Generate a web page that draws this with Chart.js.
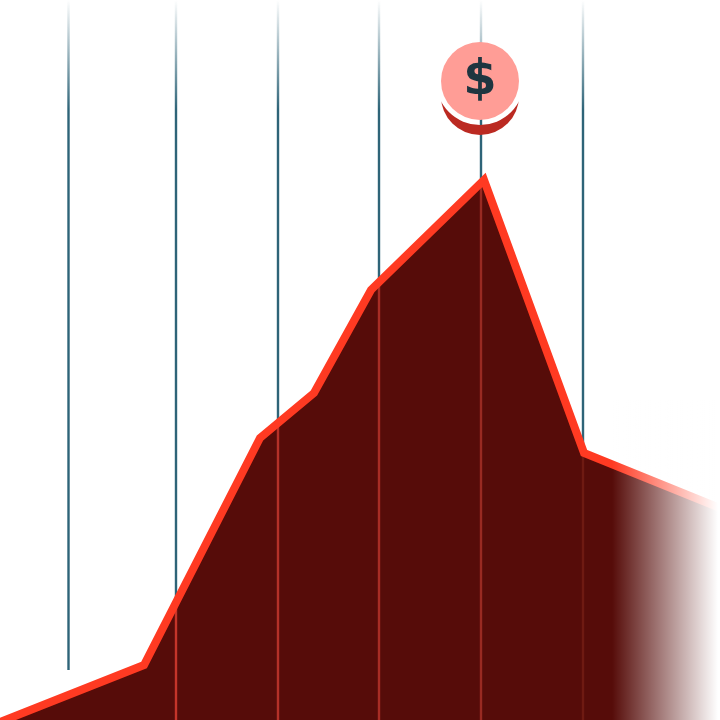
<!DOCTYPE html>
<html>
<head>
<meta charset="utf-8">
<style>
  html, body { margin: 0; padding: 0; background: #fff; overflow: hidden; width: 720px; height: 720px; }
  /* the line's stroke forces 4px of layout padding, so the canvas overhangs the page by 4px */
  canvas { display: block; margin: -4px 0 0 -4px; }
</style>
</head>
<body>
<canvas id="chart" width="728" height="728"></canvas>
<script src="https://cdn.jsdelivr.net/npm/chart.js@4"></script>
<script>
// series (y counted up from the bottom edge)
const seriesX = [-10, 144, 260, 314, 371, 484, 584, 730];
const seriesY = [-6, 55, 282, 327, 430, 540, 267, 208];

// vertical guides
const guideX = [68.5, 176, 278, 379, 481, 583];
const guideBottom = [50, 0, 0, 0, 0, 0];
const guideTop = [720, 720, 720, 720, 720, 720];
const guideInnerTop = [0, 115, 297, 440, 537, 267];
const guideInnerColor = ["#000", "#c5352a", "#b53128", "#a82d25", "#992a22", "#6e1a12"];

// badge position
const badgeX = [480];
const badgeY = [639];
const crescentY = [624];
const badgeLabel = "$";

function guideGradient(context) {
  const g = context.chart.ctx.createLinearGradient(0, 4, 0, 114);
  g.addColorStop(0, "rgba(46,100,120,0)");
  g.addColorStop(1, "rgba(46,100,120,1)");
  return g;
}

const toPoints = (xs, ys) => xs.map((x, i) => ({ x, y: ys[i] }));

const datasets = [];
guideX.forEach((x, i) => {
  datasets.push({
    data: [{ x, y: guideBottom[i] }, { x, y: guideTop[i] }],
    borderColor: guideGradient, borderWidth: 2.4, pointRadius: 0, order: 10,
  });
});
datasets.push({
  data: toPoints(seriesX, seriesY),
  backgroundColor: "#560c09", fill: "origin", borderWidth: 0, pointRadius: 0, order: 9,
});
guideX.forEach((x, i) => {
  if (!guideInnerTop[i]) return;
  datasets.push({
    data: [{ x, y: 0 }, { x, y: guideInnerTop[i] }],
    borderColor: guideInnerColor[i], borderWidth: 2.4, pointRadius: 0, order: 8,
  });
});
datasets.push({
  data: toPoints(seriesX, seriesY),
  borderColor: "#ff3a22", borderWidth: 8, borderJoinStyle: "miter", pointRadius: 0, fill: false, order: 7,
});

// washes the right edge of the area out to white
const fadeRight = {
  id: "fadeRight",
  afterDatasetsDraw(chart) {
    const { ctx, scales, chartArea } = chart;
    const x0 = scales.x.getPixelForValue(612);
    const x1 = scales.x.getPixelForValue(718);
    const g = ctx.createLinearGradient(x0, 0, x1, 0);
    g.addColorStop(0, "rgba(255,255,255,0)");
    g.addColorStop(1, "rgba(255,255,255,1)");
    ctx.save();
    ctx.fillStyle = g;
    ctx.fillRect(x0, scales.y.getPixelForValue(320), chartArea.right - x0, 330);
    ctx.restore();
  },
};

// coin with its crescent and the $ on it
const badge = {
  id: "badge",
  afterDatasetsDraw(chart) {
    const { ctx, scales, width, height } = chart;
    const cx = scales.x.getPixelForValue(badgeX[0]);
    const cy = scales.y.getPixelForValue(badgeY[0]);
    const cy2 = scales.y.getPixelForValue(crescentY[0]);
    ctx.save();
    const cut = new Path2D();
    cut.rect(0, 0, width, height);
    cut.arc(cx, cy, 44, 0, Math.PI * 2);
    ctx.clip(cut, "evenodd");
    ctx.fillStyle = "#bb2a22";
    ctx.beginPath();
    ctx.arc(cx, cy2, 39, 0, Math.PI * 2);
    ctx.fill();
    ctx.restore();

    ctx.save();
    ctx.fillStyle = "#ff9d96";
    ctx.beginPath();
    ctx.arc(cx, cy, 39, 0, Math.PI * 2);
    ctx.fill();
    ctx.fillStyle = "#1f3540";
    ctx.font = "bold 48px 'DejaVu Sans'";
    ctx.textAlign = "center";
    ctx.textBaseline = "middle";
    ctx.fillText(badgeLabel, cx, cy + 1);
    ctx.restore();
  },
};

new Chart(document.querySelector("#chart"), {
  type: "line",
  data: { datasets },
  options: {
    responsive: false,
    animation: false,
    events: [],
    layout: { padding: 4 },
    plugins: { legend: { display: false }, tooltip: { enabled: false } },
    scales: {
      x: { type: "linear", min: 0, max: 720, display: false },
      y: { type: "linear", min: 0, max: 720, display: false },
    },
  },
  plugins: [fadeRight, badge],
});
</script>
</body>
</html>
